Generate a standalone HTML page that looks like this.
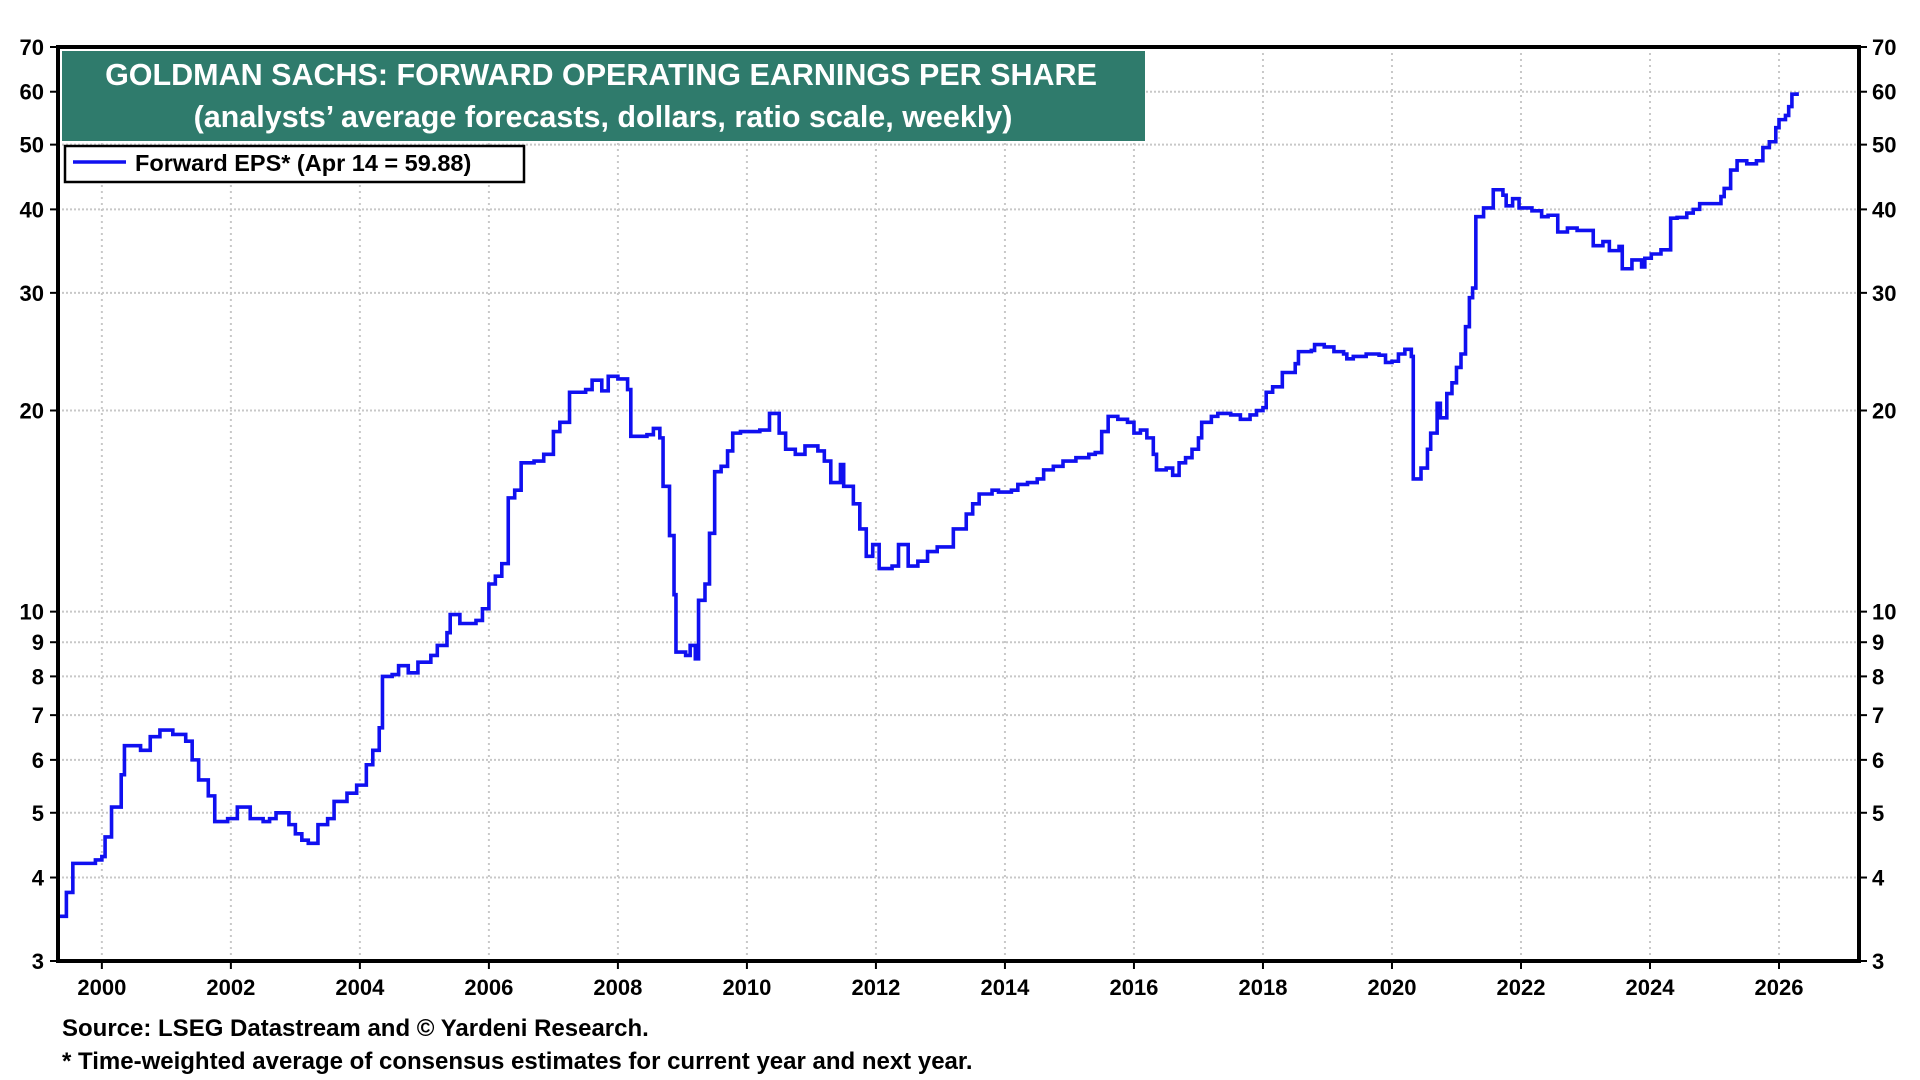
<!DOCTYPE html>
<html><head><meta charset="utf-8"><style>
html,body{margin:0;padding:0;background:#fff;width:1920px;height:1080px;overflow:hidden}
svg{display:block;font-family:"Liberation Sans",Arial,sans-serif;font-weight:bold}
</style></head><body>
<svg id="chart" width="1920" height="1080" viewBox="0 0 1920 1080" xmlns="http://www.w3.org/2000/svg"></svg>
<script>
const years=[1999.35,1999.45,1999.55,1999.9,2000.0,2000.05,2000.15,2000.3,2000.35,2000.6,2000.75,2000.9,2001.1,2001.3,2001.4,2001.5,2001.65,2001.75,2001.95,2002.1,2002.3,2002.5,2002.6,2002.7,2002.9,2003.0,2003.1,2003.2,2003.35,2003.5,2003.6,2003.8,2003.95,2004.1,2004.2,2004.3,2004.35,2004.5,2004.6,2004.75,2004.9,2005.1,2005.2,2005.35,2005.4,2005.55,2005.8,2005.9,2006.0,2006.1,2006.2,2006.3,2006.4,2006.5,2006.7,2006.85,2007.0,2007.1,2007.25,2007.5,2007.6,2007.75,2007.85,2008.0,2008.15,2008.2,2008.45,2008.55,2008.65,2008.7,2008.8,2008.87,2008.9,2009.05,2009.12,2009.2,2009.25,2009.35,2009.42,2009.5,2009.6,2009.7,2009.78,2009.9,2010.2,2010.35,2010.5,2010.6,2010.75,2010.9,2011.1,2011.2,2011.3,2011.45,2011.5,2011.65,2011.75,2011.85,2011.95,2012.05,2012.25,2012.35,2012.5,2012.65,2012.8,2012.95,2013.2,2013.4,2013.5,2013.6,2013.8,2013.9,2014.1,2014.2,2014.35,2014.5,2014.6,2014.75,2014.9,2015.1,2015.3,2015.4,2015.5,2015.6,2015.75,2015.9,2016.0,2016.1,2016.2,2016.3,2016.35,2016.5,2016.6,2016.7,2016.8,2016.9,2017.0,2017.05,2017.2,2017.3,2017.5,2017.65,2017.8,2017.9,2018.0,2018.05,2018.15,2018.3,2018.5,2018.55,2018.75,2018.8,2018.95,2019.1,2019.25,2019.3,2019.4,2019.6,2019.8,2019.9,2020.0,2020.1,2020.2,2020.3,2020.33,2020.45,2020.55,2020.6,2020.7,2020.75,2020.85,2020.93,2021.0,2021.07,2021.14,2021.2,2021.25,2021.3,2021.42,2021.57,2021.72,2021.77,2021.87,2021.97,2022.17,2022.32,2022.42,2022.57,2022.72,2022.87,2023.12,2023.27,2023.37,2023.52,2023.57,2023.72,2023.87,2023.92,2024.02,2024.17,2024.32,2024.42,2024.57,2024.67,2024.77,2025.1,2025.15,2025.25,2025.35,2025.5,2025.65,2025.75,2025.85,2025.95,2026.0,2026.1,2026.15,2026.2,2026.28];
const eps=[3.5,3.8,4.2,4.25,4.3,4.6,5.1,5.7,6.3,6.2,6.5,6.65,6.55,6.4,6.0,5.6,5.3,4.85,4.9,5.1,4.9,4.85,4.9,5.0,4.8,4.65,4.55,4.5,4.8,4.9,5.2,5.35,5.5,5.9,6.2,6.7,8.0,8.05,8.3,8.1,8.4,8.6,8.9,9.3,9.9,9.6,9.7,10.1,11.0,11.3,11.8,14.8,15.2,16.7,16.8,17.2,18.6,19.2,21.3,21.5,22.2,21.4,22.5,22.3,21.5,18.3,18.4,18.8,18.2,15.4,13.0,10.6,8.7,8.6,8.9,8.5,10.4,11.0,13.1,16.2,16.5,17.4,18.5,18.6,18.7,19.8,18.5,17.5,17.2,17.7,17.4,16.8,15.6,16.6,15.4,14.5,13.3,12.1,12.6,11.6,11.7,12.6,11.7,11.9,12.3,12.5,13.3,14.0,14.5,15.0,15.2,15.1,15.2,15.5,15.6,15.8,16.3,16.5,16.8,17.0,17.2,17.3,18.6,19.6,19.4,19.2,18.5,18.7,18.2,17.2,16.3,16.4,16.0,16.7,17.0,17.5,18.2,19.2,19.6,19.8,19.7,19.4,19.7,20.0,20.2,21.3,21.7,22.8,23.5,24.5,24.6,25.1,24.9,24.5,24.3,23.9,24.1,24.3,24.2,23.6,23.7,24.3,24.7,24.1,15.8,16.4,17.5,18.5,20.5,19.5,21.2,22.0,23.2,24.3,26.7,29.5,30.5,39.0,40.2,42.8,42.0,40.5,41.5,40.2,39.8,39.0,39.2,37.0,37.5,37.2,35.3,35.8,34.7,35.2,32.6,33.6,32.8,33.8,34.3,34.8,38.8,38.9,39.5,40.0,40.8,41.8,43.0,45.8,47.3,46.8,47.3,49.5,50.5,53.0,54.5,55.3,57.0,59.5,59.88];
const yTicks=[3,4,5,6,7,8,9,10,20,30,40,50,60,70];
const xTicks=[2000,2002,2004,2006,2008,2010,2012,2014,2016,2018,2020,2022,2024,2026];

const L=58,R=1859,T=47,B=961;
const X0=1999.32,X1=2027.24,Ymin=3,Ymax=70;
const xs=v=>L+(v-X0)/(X1-X0)*(R-L);
const ys=v=>B-Math.log(v/Ymin)/Math.log(Ymax/Ymin)*(B-T);
const svg=document.getElementById('chart');
const NS='http://www.w3.org/2000/svg';
function mk(tag,attrs,parent){const e=document.createElementNS(NS,tag);for(const k in attrs)e.setAttribute(k,attrs[k]);(parent||svg).appendChild(e);return e;}

const grid=mk('g',{});


yTicks.forEach(v=>{if(v===Ymin||v===Ymax)return;const y=ys(v);
  const l=mk('line',{x1:L,x2:R,y1:y,y2:y,stroke:'#c8c8c8','stroke-width':2,'stroke-dasharray':'2,2'},grid);
  
  });
xTicks.forEach(v=>{const x=xs(v);
  const l=mk('line',{x1:x,x2:x,y1:T,y2:B,stroke:'#c8c8c8','stroke-width':2,'stroke-dasharray':'2,4'},grid);
  
  });

yTicks.forEach(v=>{const y=ys(v);
  mk('line',{x1:L-8,x2:L,y1:y,y2:y,stroke:'#000','stroke-width':2});
  mk('line',{x1:R,x2:R+8,y1:y,y2:y,stroke:'#000','stroke-width':2});
  const t1=mk('text',{x:L-14,y:y+8,'text-anchor':'end','font-size':22,fill:'#000'});t1.textContent=v;
  
  
  const t2=mk('text',{x:R+13,y:y+8,'text-anchor':'start','font-size':22,fill:'#000'});t2.textContent=v;
  
  });
xTicks.forEach(v=>{const x=xs(v);
  mk('line',{x1:x,x2:x,y1:B,y2:B+8,stroke:'#000','stroke-width':2});
  const t=mk('text',{x:x,y:995,'text-anchor':'middle','font-size':22,fill:'#000'});t.textContent=v;
  
  });

let d='';
for(let i=0;i<years.length;i++){const x=xs(years[i]),y=ys(eps[i]);
  if(i===0)d+='M'+x+','+y;else d+='H'+x+'V'+y;}
const line=mk('path',{d:d,fill:'none',stroke:'#1010f0','stroke-width':3.6,'stroke-linejoin':'miter'});



const fr=mk('rect',{x:L,y:T,width:R-L,height:B-T,fill:'none',stroke:'#000','stroke-width':4});



const tb=mk('rect',{x:62,y:51,width:1083,height:90,fill:'#2f7b6c'});


const t1=mk('text',{x:601,y:85,'text-anchor':'middle','font-size':30.5,fill:'#fff'});t1.textContent='GOLDMAN SACHS: FORWARD OPERATING EARNINGS PER SHARE';


const t2=mk('text',{x:603,y:127,'text-anchor':'middle','font-size':30.5,fill:'#fff'});t2.textContent='(analysts\u2019 average forecasts, dollars, ratio scale, weekly)';



const lg=mk('rect',{x:65,y:146,width:459,height:36,fill:'#fff',stroke:'#000','stroke-width':2.5});


mk('line',{x1:73,x2:126,y1:162,y2:162,stroke:'#1010f0','stroke-width':3.5});
const lt=mk('text',{x:135,y:171,'font-size':23.5,fill:'#000'});lt.textContent='Forward EPS* (Apr 14 = 59.88)';



const s1=mk('text',{x:62,y:1036,'font-size':24,fill:'#000'});s1.textContent='Source: LSEG Datastream and \u00A9 Yardeni Research.';


const s2=mk('text',{x:62,y:1069,'font-size':24,fill:'#000'});s2.textContent='* Time-weighted average of consensus estimates for current year and next year.';


</script>
</body></html>
